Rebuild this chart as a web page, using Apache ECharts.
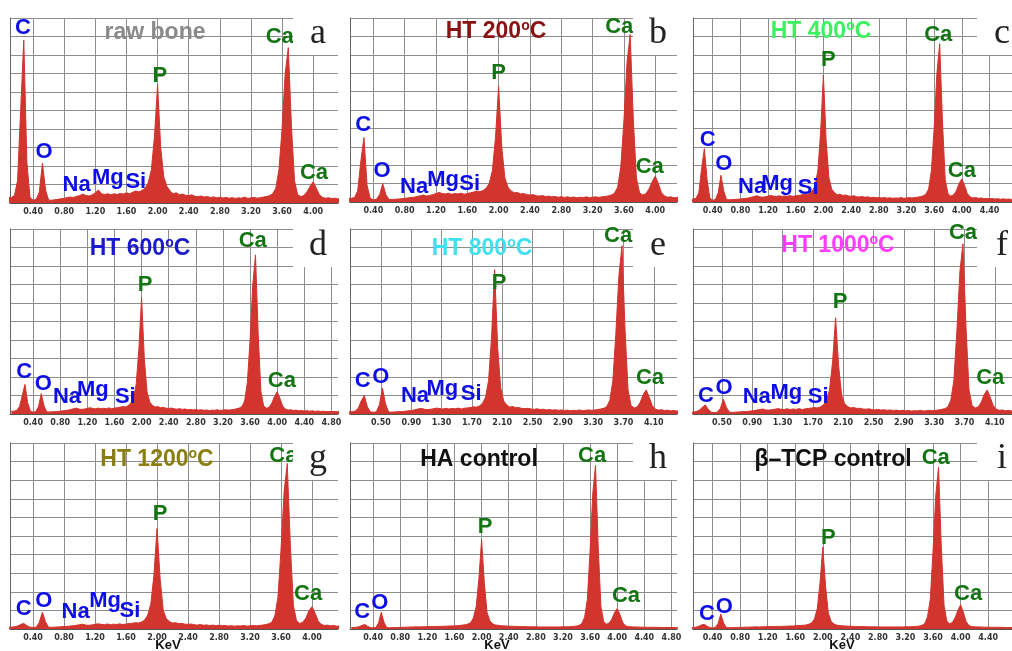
<!DOCTYPE html>
<html><head><meta charset="utf-8">
<script src="https://cdn.jsdelivr.net/npm/echarts@6/dist/echarts.min.js"></script>
<style>html,body{margin:0;padding:0;background:#fff}#c{width:1012px;height:651px}</style>
</head><body><div id="c"></div>
<script>
// Energy axis (keV), shared by all spectra
const E = [
0.08,0.12,0.16,0.20,0.24,0.28,0.32,0.36,0.40,0.44,
0.48,0.52,0.56,0.60,0.64,0.68,0.72,0.76,0.80,0.84,
0.88,0.92,0.96,1.00,1.04,1.08,1.12,1.16,1.20,1.24,
1.28,1.32,1.36,1.40,1.44,1.48,1.52,1.56,1.60,1.64,
1.68,1.72,1.76,1.80,1.84,1.88,1.92,1.96,2.00,2.04,
2.08,2.12,2.16,2.20,2.24,2.28,2.32,2.36,2.40,2.44,
2.48,2.52,2.56,2.60,2.64,2.68,2.72,2.76,2.80,2.84,
2.88,2.92,2.96,3.00,3.04,3.08,3.12,3.16,3.20,3.24,
3.28,3.32,3.36,3.40,3.44,3.48,3.52,3.56,3.60,3.64,
3.68,3.72,3.76,3.80,3.84,3.88,3.92,3.96,4.00,4.04,
4.08,4.12,4.16,4.20,4.24,4.28,4.32,4.36,4.40,4.44,
4.48,4.52,4.56,4.60,4.64,4.68,4.72,4.76,4.80,4.84,
4.88,4.92];

// Intensities, % of full scale
const SPEC_A = [
3,3,4,12,50,88,22,3,1.5,2,
6,21.5,7,1.5,1.5,1.8,2,2.3,2.5,3,
3.2,3,3.6,4,4.8,4,3.8,4.4,5.5,7,
5,4.6,5,4.4,5,4.6,5.2,4.8,5.5,5,
5.8,6.5,6,6.8,8,11,18,36,64,30,
14,9,6.5,5,5.5,4.5,4.8,4.2,4,4.4,
3.6,3.4,3.8,3.2,3.5,3,3.3,2.8,3.1,2.7,
3,2.6,2.9,2.5,2.8,2.6,3.2,2.5,2.8,3,
2.6,2.9,3.2,3.5,4,5,8,18,40,70,
84,42,12,4.5,3.5,4,6,9,11.5,8,
4.5,3,2.6,2.8,2.4,2.6,2.2,2.4,2.1,2.3,
2,2.2,1.9,2.1,1.8,2,1.8,1.9,1.7,1.8,
1.6,1.7];
const SPEC_B = [
2,2,2.5,6,22,35,9,2,1.2,1.5,
4,10,4,1.4,1.3,1.5,1.6,1.8,2,2.2,
2.4,2.6,3,3.4,3.8,3.2,3.6,4,4.6,5.2,
4.6,4.4,4.8,4.2,4.6,4.4,4.8,4.2,4.6,5,
5.4,6,5.6,6.2,7.5,10,17,35,63,30,
13,8,6,5,5.2,4.4,4.6,4,3.8,4,
3.4,3.2,3.5,3,3.2,2.8,3,2.6,2.9,2.5,
2.8,2.4,2.7,2.3,2.6,2.4,2.8,2.3,2.6,2.8,
2.5,2.8,3,3.3,3.8,4.8,8,19,44,76,
91,45,13,5,3.8,4.5,7,11,14,10,
5,3.2,2.6,2.8,2.3,2.5,2.1,2.3,2,2.2,
1.9,2.1,1.8,2,1.7,1.9,1.7,1.8,1.6,1.7,
1.5,1.6];
const SPEC_C = [
1.5,1.5,2,5,18,29,12,2,1,1.3,
5,14.5,6,1.3,1.2,1.3,1.4,1.5,1.6,1.8,
2,2.2,2.6,3,3.4,2.8,2.6,2.8,3.2,3.6,
3.2,3,3.4,3,3.3,3.1,3.5,3,3.4,3.6,
3.8,4.2,4,4.6,6,9,17,38,69,33,
13,7,5,4,4.2,3.6,3.8,3.3,3.1,3.4,
2.9,2.7,3,2.6,2.8,2.4,2.6,2.3,2.5,2.2,
2.4,2.1,2.3,2,2.2,2.1,2.4,2,2.2,2.4,
2.2,2.4,2.6,2.9,3.3,4.2,7,17,40,70,
86,44,12,4.5,3.2,3.8,6,10,12.5,9,
4.5,2.8,2.2,2.4,2,2.2,1.8,2,1.7,1.9,
1.6,1.8,1.5,1.7,1.5,1.6,1.4,1.5,1.4,1.5,
1.3,1.4];
const SPEC_D = [
1.5,1.5,2,4,10,16,6,1.5,1,1.3,
4,11,4.5,1.2,1.1,1.2,1.3,1.4,1.5,1.7,
1.9,2.1,2.5,2.9,3.2,2.6,2.5,2.7,3,3.4,
3,2.8,3.2,2.8,3.1,2.9,3.3,2.8,3.2,3.4,
3.6,4,3.8,4.4,5.8,8.5,16,35,63,30,
12,6.5,4.6,3.8,4,3.4,3.6,3.1,3,3.2,
2.8,2.6,2.9,2.5,2.7,2.3,2.5,2.2,2.4,2.1,
2.3,2,2.2,1.9,2.1,2,2.3,1.9,2.1,2.3,
2.1,2.3,2.5,2.8,3.2,4,7,17,40,70,
86,43,12,4.4,3.1,3.6,5.8,9.5,12,8.5,
4.3,2.7,2.1,2.3,1.9,2.1,1.7,1.9,1.6,1.8,
1.5,1.7,1.4,1.6,1.4,1.5,1.3,1.4,1.3,1.4,
1.2,1.3];
const SPEC_E = [
1.2,1.2,1.6,3,7,10,4,1.2,0.9,1.2,
5,14,5.5,1.1,1,1.1,1.2,1.3,1.4,1.6,
1.8,2,2.4,2.8,3,2.5,2.4,2.6,2.9,3.2,
2.9,2.7,3.1,2.7,3,2.8,3.2,2.7,3.1,3.3,
3.5,3.9,3.7,4.3,5.8,9,18,42,78,36,
14,7,4.8,3.8,4,3.4,3.5,3,2.9,3.1,
2.7,2.5,2.8,2.4,2.6,2.2,2.4,2.1,2.3,2,
2.2,1.9,2.1,1.8,2,1.9,2.2,1.8,2,2.2,
2,2.2,2.4,2.7,3.1,4,7.5,18,44,75,
91,46,13,4.6,3.2,3.8,6.2,10.5,13,9,
4.5,2.7,2.1,2.3,1.9,2.1,1.7,1.9,1.6,1.8,
1.5,1.7,1.4,1.6,1.4,1.5,1.3,1.4,1.3,1.4,
1.2,1.3];
const SPEC_F = [
1,1,1.3,2,3.5,5,2.5,1,0.8,1,
3,8,3.5,1,0.9,1,1.1,1.2,1.3,1.4,
1.6,1.8,2.1,2.4,2.7,2.2,2.1,2.3,2.6,2.9,
2.6,2.4,2.8,2.4,2.7,2.5,2.9,2.4,2.8,3,
3.2,3.5,3.3,3.8,5,7.5,13,28,52,26,
10,5.5,4,3.3,3.5,3,3.1,2.7,2.6,2.8,
2.4,2.2,2.5,2.1,2.3,2,2.2,1.9,2.1,1.8,
2,1.7,1.9,1.6,1.8,1.7,2,1.6,1.8,2,
1.8,2,2.2,2.5,2.9,3.8,7.5,18,45,77,
92,47,13,4.6,3.2,3.8,6.2,10.5,13,9,
4.5,2.6,2,2.2,1.8,2,1.6,1.8,1.5,1.7,
1.4,1.6,1.3,1.5,1.3,1.4,1.2,1.3,1.2,1.3,
1.1,1.2];
const SPEC_G = [
1,1,1.2,1.6,2.4,3,1.8,1,0.8,1,
3.4,9,4,1,0.9,1,1.1,1.2,1.3,1.4,
1.6,1.8,2,2.3,2.6,2.1,2,2.2,2.5,2.8,
2.5,2.3,2.7,2.3,2.6,2.4,2.8,2.3,2.7,2.9,
3.1,3.4,3.2,3.7,4.8,7.5,13.5,29,54,27,
10,5.5,4,3.2,3.4,2.9,3,2.6,2.5,2.7,
2.3,2.1,2.4,2,2.2,1.9,2.1,1.8,2,1.7,
1.9,1.6,1.8,1.5,1.7,1.6,1.9,1.5,1.7,1.9,
1.7,1.9,2.1,2.4,2.8,3.6,7,17,43,74,
89,45,12.5,4.4,3,3.6,5.8,9.8,12,8.5,
4.2,2.5,1.9,2.1,1.7,1.9,1.5,1.7,1.4,1.6,
1.3,1.5,1.2,1.4,1.2,1.3,1.1,1.2,1.1,1.2,
1,1.1];
const SPEC_H = [
0.8,0.8,1,1.4,2,2.4,1.4,0.8,0.6,0.8,
3.2,9,3.6,0.8,0.7,0.7,0.8,0.8,0.9,0.9,
1,1,1.1,1.1,1.2,1.1,1.2,1.2,1.3,1.3,
1.3,1.4,1.4,1.4,1.5,1.5,1.6,1.6,1.7,1.8,
1.9,2.1,2.3,2.7,3.5,6,12,27,48,25,
9,4.5,2.8,2.2,2,1.8,1.7,1.6,1.5,1.5,
1.4,1.4,1.3,1.3,1.3,1.2,1.2,1.2,1.2,1.1,
1.1,1.1,1.1,1.1,1.1,1.1,1.1,1.1,1.2,1.2,
1.2,1.3,1.4,1.6,2,3,6.5,16,42,73,
88,44,12,4,2.6,3.2,5.2,8.8,11,7.8,
3.6,1.8,1.3,1.2,1.1,1.1,1,1,1,0.9,
0.9,0.9,0.9,0.9,0.8,0.8,0.8,0.8,0.8,0.8,
0.7,0.7];
const SPEC_I = [
0.8,0.8,1,1.5,2.2,2.5,1.5,0.8,0.6,0.8,
3,8,3.2,0.8,0.7,0.7,0.8,0.8,0.9,0.9,
1,1,1.1,1.1,1.2,1.1,1.2,1.2,1.3,1.3,
1.3,1.4,1.4,1.4,1.5,1.5,1.6,1.6,1.7,1.8,
1.9,2,2.2,2.6,3.3,5.5,11,25,44,23,
8.5,4.2,2.7,2.1,1.9,1.7,1.6,1.5,1.5,1.4,
1.4,1.3,1.3,1.3,1.2,1.2,1.2,1.2,1.1,1.1,
1.1,1.1,1.1,1.1,1.1,1.1,1.1,1.1,1.2,1.2,
1.2,1.3,1.4,1.6,2,3,6.5,16,42,72,
87,44,12.5,4.2,2.8,3.5,6,10,13,9,
4,1.9,1.3,1.2,1.1,1.1,1,1,1,0.9,
0.9,0.9,0.9,0.9,0.8,0.8,0.8,0.8,0.8,0.8,
0.7,0.7];

// Tick labels (keV)
const TICKS_A = [0.4,0.8,1.2,1.6,2.0,2.4,2.8,3.2,3.6,4.0];
const TICKS_C = [0.4,0.8,1.2,1.6,2.0,2.4,2.8,3.2,3.6,4.0,4.4];
const TICKS_D = [0.4,0.8,1.2,1.6,2.0,2.4,2.8,3.2,3.6,4.0,4.4,4.8];
const TICKS_E = [0.5,0.9,1.3,1.7,2.1,2.5,2.9,3.3,3.7,4.1];

// Element labels: [element, keV, % height]
const LABELS_A = [['C',0.27,94.6],['O',0.54,27.5],['Na',0.96,10],['Mg',1.36,13.5],['Si',1.72,11.5],['P',2.03,68.6],['Ca',3.57,90],['Ca',4.01,16]];
const LABELS_B = [['C',0.27,42],['O',0.51,17],['Na',0.92,8],['Mg',1.29,12],['Si',1.63,10],['P',2.0,70],['Ca',3.54,95],['Ca',3.93,19]];
const LABELS_C = [['C',0.33,34],['O',0.56,20.6],['Na',0.97,8],['Mg',1.33,10],['Si',1.78,7.6],['P',2.07,77],['Ca',3.66,91],['Ca',4.0,17]];
const LABELS_D = [['C',0.27,22.7],['O',0.55,16],['Na',0.9,9],['Mg',1.28,13],['Si',1.76,9],['P',2.05,70],['Ca',3.64,93.5],['Ca',4.07,18]];
const LABELS_E = [['C',0.26,18],['O',0.5,20],['Na',0.95,10],['Mg',1.31,13.5],['Si',1.69,11],['P',2.06,71],['Ca',3.63,96],['Ca',4.05,19.5]];
const LABELS_F = [['C',0.29,10],['O',0.53,14],['Na',0.96,9],['Mg',1.35,11.5],['Si',1.77,9],['P',2.06,60.5],['Ca',3.68,98],['Ca',4.04,19.5]];
const LABELS_G = [['C',0.28,11],['O',0.54,15],['Na',0.95,9],['Mg',1.33,15],['Si',1.65,9.6],['P',2.04,62],['Ca',3.63,93],['Ca',3.95,19]];
const LABELS_H = [['C',0.24,9],['O',0.5,14],['P',2.05,55],['Ca',3.63,93],['Ca',4.13,18]];
const LABELS_I = [['C',0.32,8],['O',0.57,12],['P',2.08,49],['Ca',3.64,92],['Ca',4.11,19]];

// Panel titles: [main text, has degree sign]
const TITLES = [['raw bone',false],['HT 200',true],['HT 400',true],['HT 600',true],['HT 800',true],['HT 1000',true],['HT 1200',true],['HA control',false],['\u03b2\u2013TCP control',false]];
const TITLE_COLORS = ['#8a8a8a','#8a1212','#3cf060','#1a1acc','#40e0f0','#ff3cff','#8a7e10','#111111','#111111'];
const LETTERS = ['a','b','c','d','e','f','g','h','i'];

const BLUE = '#0d0de8', GREEN = '#127512', RED = '#d2342e', GRIDC = '#8e8e8e';

const PANELS = [
 {spec:SPEC_A, labels:LABELS_A, ticks:TICKS_A, min:0.103, max:4.319, box:[10,18,328,185], title:[155,33], letter:[293,13,47,42]},
 {spec:SPEC_B, labels:LABELS_B, ticks:TICKS_A, min:0.102, max:4.278, box:[350,18,327,184], title:[496,32], letter:[633,13,47,42]},
 {spec:SPEC_C, labels:LABELS_C, ticks:TICKS_C, min:0.116, max:4.725, box:[693,18,319,184], title:[821,32], letter:[977,13,40,42]},
 {spec:SPEC_D, labels:LABELS_D, ticks:TICKS_D, min:0.059, max:4.897, box:[10,229,328,185], title:[140,249], letter:[293,225,47,42]},
 {spec:SPEC_E, labels:LABELS_E, ticks:TICKS_E, min:0.092, max:4.406, box:[350,229,327,185], title:[482,249], letter:[633,225,47,42]},
 {spec:SPEC_F, labels:LABELS_F, ticks:TICKS_E, min:0.119, max:4.327, box:[693,229,319,185], title:[838,246], letter:[977,225,40,42]},
 {spec:SPEC_G, labels:LABELS_G, ticks:TICKS_A, min:0.103, max:4.335, box:[10,443,328,186], title:[157,460], letter:[293,438,47,42]},
 {spec:SPEC_H, labels:LABELS_H, ticks:TICKS_D, min:0.059, max:4.882, box:[350,443,327,186], title:[479,460], letter:[633,438,47,42]},
 {spec:SPEC_I, labels:LABELS_I, ticks:TICKS_C, min:0.116, max:4.746, box:[693,443,319,186], title:[833,460], letter:[977,438,40,42]}
];
const KEV_POS = [[168,645],[497,645],[842,645]];

const grid = [], xAxis = [], yAxis = [], series = [], graphic = [];
PANELS.forEach((p, i) => {
  grid.push({left:p.box[0], top:p.box[1], width:p.box[2], height:p.box[3], containLabel:false});
  xAxis.push({type:'value', gridIndex:i, min:p.min, max:p.max,
    axisLine:{show:true, onZero:false, lineStyle:{color:'#555', width:1}},
    axisTick:{show:false, customValues:p.ticks},
    axisLabel:{customValues:p.ticks, formatter:v=>Number(v).toFixed(2), fontSize:8, fontWeight:'bold', color:'#333', margin:5, fontFamily:'DejaVu Sans'},
    splitLine:{show:false}});
  yAxis.push({type:'value', gridIndex:i, min:0, max:100, interval:10,
    axisLine:{show:true, lineStyle:{color:'#666', width:1}}, axisTick:{show:false}, axisLabel:{show:false},
    splitLine:{show:true, lineStyle:{color:GRIDC, width:1}}});
  // vertical grid lines at the tick values (drawn beneath the spectrum)
  series.push({type:'line', xAxisIndex:i, yAxisIndex:i, data:[], silent:true, z:0, zlevel:0,
    markLine:{silent:true, z:0, symbol:['none','none'], animation:false, label:{show:false},
      lineStyle:{color:GRIDC, width:1, type:'solid'}, emphasis:{disabled:true},
      data:p.ticks.map(v=>({xAxis:v}))}});
  const n = Math.min(E.length, p.spec.length);
  const d = [];
  for (let j = 0; j < n; j++) d.push([E[j], p.spec[j]]);
  series.push({type:'line', xAxisIndex:i, yAxisIndex:i, data:d, symbol:'none', showSymbol:false, clip:true, silent:true,
    lineStyle:{color:RED, width:1}, areaStyle:{color:RED, opacity:1}, z:8});
  series.push({type:'scatter', xAxisIndex:i, yAxisIndex:i, symbolSize:1, silent:true, clip:false, z:10,
    itemStyle:{color:'rgba(0,0,0,0)', opacity:1},
    data:p.labels.map(l=>({name:l[0], value:[l[1], l[2]], label:{color:(l[0]==='P'||l[0]==='Ca')?GREEN:BLUE}})),
    label:{show:true, position:'inside', opacity:1, textBorderWidth:0, formatter:q=>q.name, fontSize:22, fontWeight:'bold', fontFamily:'Liberation Sans, Arial, sans-serif'}});
  // letter box
  graphic.push({type:'rect', z:50, shape:{x:p.letter[0], y:p.letter[1], width:p.letter[2], height:p.letter[3]}, style:{fill:'#ffffff'}});
  graphic.push({type:'text', z:51, x:p.letter[0]+25, y:p.letter[1]+21, style:{text:LETTERS[i], fill:'#222', font:'36px "Liberation Serif", "DejaVu Serif", serif', align:'center', verticalAlign:'middle'}});
  // title
  const t = TITLES[i];
  const txt = t[1] ? '{m|' + t[0] + '}{s|o}{m|C}' : '{m|' + t[0] + '}';
  graphic.push({type:'text', z:52, x:p.title[0], y:p.title[1], style:{text:txt, align:'center', verticalAlign:'middle',
    rich:{m:{fontSize:23, fontWeight:'bold', fontFamily:'Liberation Sans, Arial, sans-serif', fill:TITLE_COLORS[i], lineHeight:28},
          s:{fontSize:14, fontWeight:'bold', fontFamily:'Liberation Sans, Arial, sans-serif', fill:TITLE_COLORS[i], lineHeight:28, padding:[0,0,11,0]}}}});
});
KEV_POS.forEach(k => graphic.push({type:'text', z:52, x:k[0], y:k[1], style:{text:'KeV', fill:'#111', font:'bold 13px "Liberation Sans", Arial, sans-serif', align:'center', verticalAlign:'middle'}}));

const chart = echarts.init(document.getElementById('c'), null, {renderer:'canvas'});
chart.setOption({animation:false, backgroundColor:'#ffffff', grid, xAxis, yAxis, series, graphic});
</script></body></html>
